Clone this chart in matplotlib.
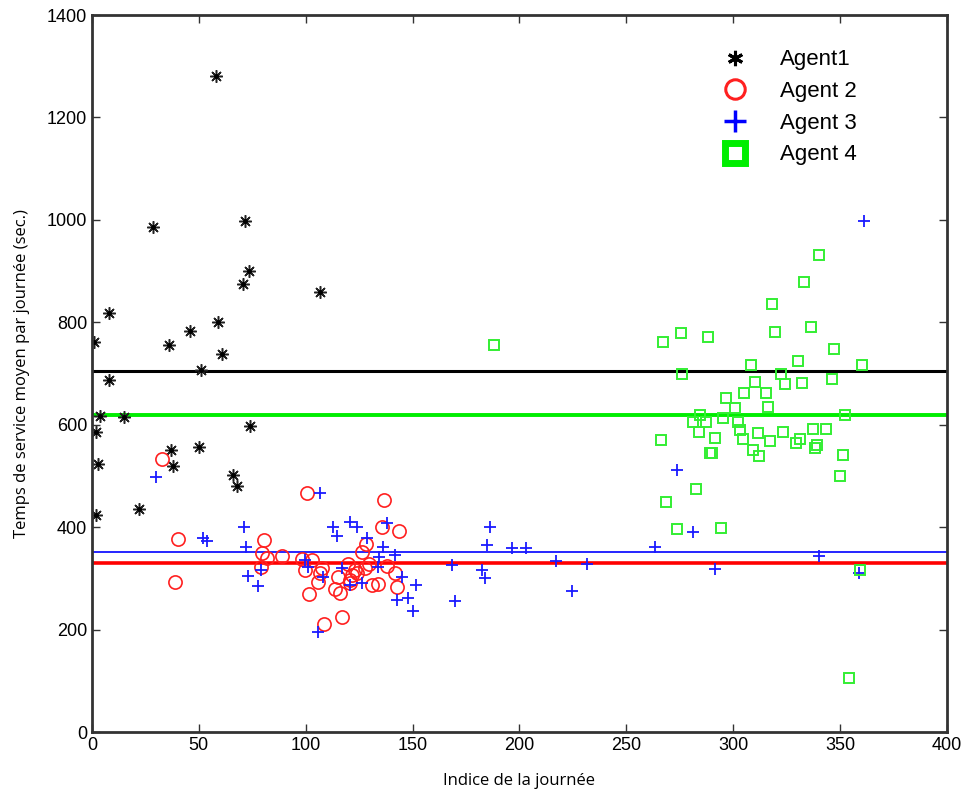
import numpy as np
import matplotlib.pyplot as plt
from matplotlib.lines import Line2D

#
# données
#
a1_x = [58, 28.5, 71.6, 73.5, 70.6, 106.7, 8, 45.8, 59, 1, 36, 61, 51, 8, 3.7, 15, 74, 2,
        37, 50, 3, 38, 66, 68, 22, 2]
a1_y = [1281, 986, 998, 900, 875, 859, 818, 783, 800, 762, 756, 738, 707, 687, 617, 615, 598, 586,
        551, 557, 523, 519, 502, 480, 435, 424]

a2_x = [32.9, 100.4, 40.1, 38.8, 80.6, 79.7, 81.9, 88.7, 78.9, 98.4, 103.1, 99.6, 107.7, 106.7,
        105.9, 101.7, 108.5, 136.7, 135.5, 143.6, 128.2, 126.5, 119.9, 115.2, 113.7, 116, 123,
        121.5, 120.7, 123.8, 129.7, 127.7, 137.9, 141.8, 142.6, 130.9, 133.9, 120.7, 116.8]
a2_y = [534, 467, 377, 293, 374, 349, 339, 344, 323, 338, 336, 316, 320, 311,
        293, 269, 211, 453, 401, 393, 367, 352, 329, 302, 279, 271, 316,
        307, 297, 310, 329, 320, 324, 310, 284, 287, 289, 290, 224]

a3_x = [29.8, 106.7, 71.1, 52.1, 53.7, 71.9, 73.1, 77.8, 78.9, 112.9, 108.2, 105.9, 99.6, 101.2,
        114.8, 120.7, 123.8, 128.8, 137.9, 136, 141.8, 134.4, 133.9, 116.8, 126.2, 120.7, 144.9,
        151.6, 148, 142.8, 150, 186.2, 184.7, 196.6, 203, 168.6, 182.6, 183.9, 169.8, 217.1,
        231.4, 224.4, 273.5, 281.3, 263.4, 291.5, 340.3, 359, 361.3]
a3_y = [497, 467, 400, 378, 372, 361, 305, 286, 316, 400, 303, 195, 336, 323,
        382, 411, 401, 378, 408, 362, 346, 342, 323, 320, 290, 287, 302,
        287, 261, 258, 236, 400, 365, 359, 359, 326, 316, 300, 256, 333,
        328, 275, 512, 390, 361, 318, 344, 311, 998]

a4_x = [188, 340.3, 333.2, 318.3, 275.4, 267.3, 288.3, 319.4, 336.2, 347.3, 330.4, 360.1, 308.3,
        276.3, 322.3, 310.2, 324.4, 332.3, 346.3, 305.2, 315.3, 296.5, 316.4, 301.1, 284.4,
        281.3, 287.3, 295.4, 302.4, 352.3, 283.9, 303.2, 311.4, 323.1, 337.5, 343.3, 266.2,
        291.5, 304.4, 317.2, 329.2, 331.2, 339.3, 338.2, 351.2, 309.4, 312.2, 289.1, 289.9,
        268.5, 273.5, 294.3, 282.4, 350, 354.2, 359.3]
a4_y = [755, 931, 879, 836, 780, 762, 772, 781, 791, 747, 724, 717, 717,
        700, 700, 684, 680, 682, 689, 661, 661, 653, 635, 632, 618,
        606, 605, 614, 606, 618, 585, 590, 583, 586, 591, 591, 570,
        575, 572, 569, 565, 572, 560, 554, 541, 551, 538, 544, 545,
        450, 397, 399, 474, 500, 105, 316]

# moyennes
m1, m2, m3, m4 = 705, 330, 351, 618

fig = plt.figure(figsize=(9.66, 7.98), dpi=100)
ax = fig.add_axes([0.0952, 0.0827, 0.885, 0.8985])

ax.plot([0, 400], [m1, m1], color='black', lw=2.2)
ax.plot([0, 400], [m4, m4], color='#00ee00', lw=2.8)
ax.plot([0, 400], [m3, m3], color='blue', lw=1.2)
ax.plot([0, 400], [m2, m2], color='red', lw=2.6)

# astérisque façon matlab
ax.plot(a1_x, a1_y, marker=(8, 2, 0), color='#222222', ms=9, mew=1.1, ls='none')
ax.plot(a1_x, a1_y, 'o', color='black', ms=2.5, ls='none')
ax.plot(a2_x, a2_y, 'o', mfc='none', mec='#ff2020', ms=9.5, mew=1.2, ls='none')
ax.plot(a3_x, a3_y, '+', color='#1a1aff', ms=9, mew=1.3, ls='none')
ax.plot(a4_x, a4_y, 's', mfc='none', mec='#33ee33', ms=7, mew=1.4, ls='none')

ax.set_xlim(0, 400)
ax.set_ylim(0, 1400)
ax.set_xticks(np.arange(0, 401, 50))
ax.set_yticks(np.arange(0, 1401, 200))
ax.tick_params(direction='in', length=6, width=1, top=True, right=True,
               labelsize=13, colors='#333333')
for lab in ax.get_xticklabels() + ax.get_yticklabels():
    lab.set_family('Liberation Sans')
    lab.set_color('black')
for s in ax.spines.values():
    s.set_linewidth(2)
    s.set_color('#333333')

ax.set_xlabel('Indice de la journée', family='Open Sans', fontsize=12, labelpad=14)
ax.set_ylabel('Temps de service moyen par journée (sec.)', family='Open Sans', fontsize=12, labelpad=12)

handles = [
    Line2D([], [], ls='none', marker=(6, 2, 0), color='black', ms=11, mew=2.2),
    Line2D([], [], ls='none', marker='o', mfc='none', mec='#ff2020', ms=14, mew=2.2),
    Line2D([], [], ls='none', marker='+', color='blue', ms=16, mew=2.5),
    Line2D([], [], ls='none', marker='s', mfc='white', mec='#00ee00', ms=15, mew=5),
]
labels = ['Agent1', 'Agent 2', 'Agent 3', 'Agent 4']
leg = ax.legend(handles, labels, loc='upper left', bbox_to_anchor=(0.703, 0.98),
                frameon=False, prop={'family': 'Liberation Sans', 'size': 16},
                handletextpad=1.0, labelspacing=0.48)

fig.savefig('out.png', dpi=100)
